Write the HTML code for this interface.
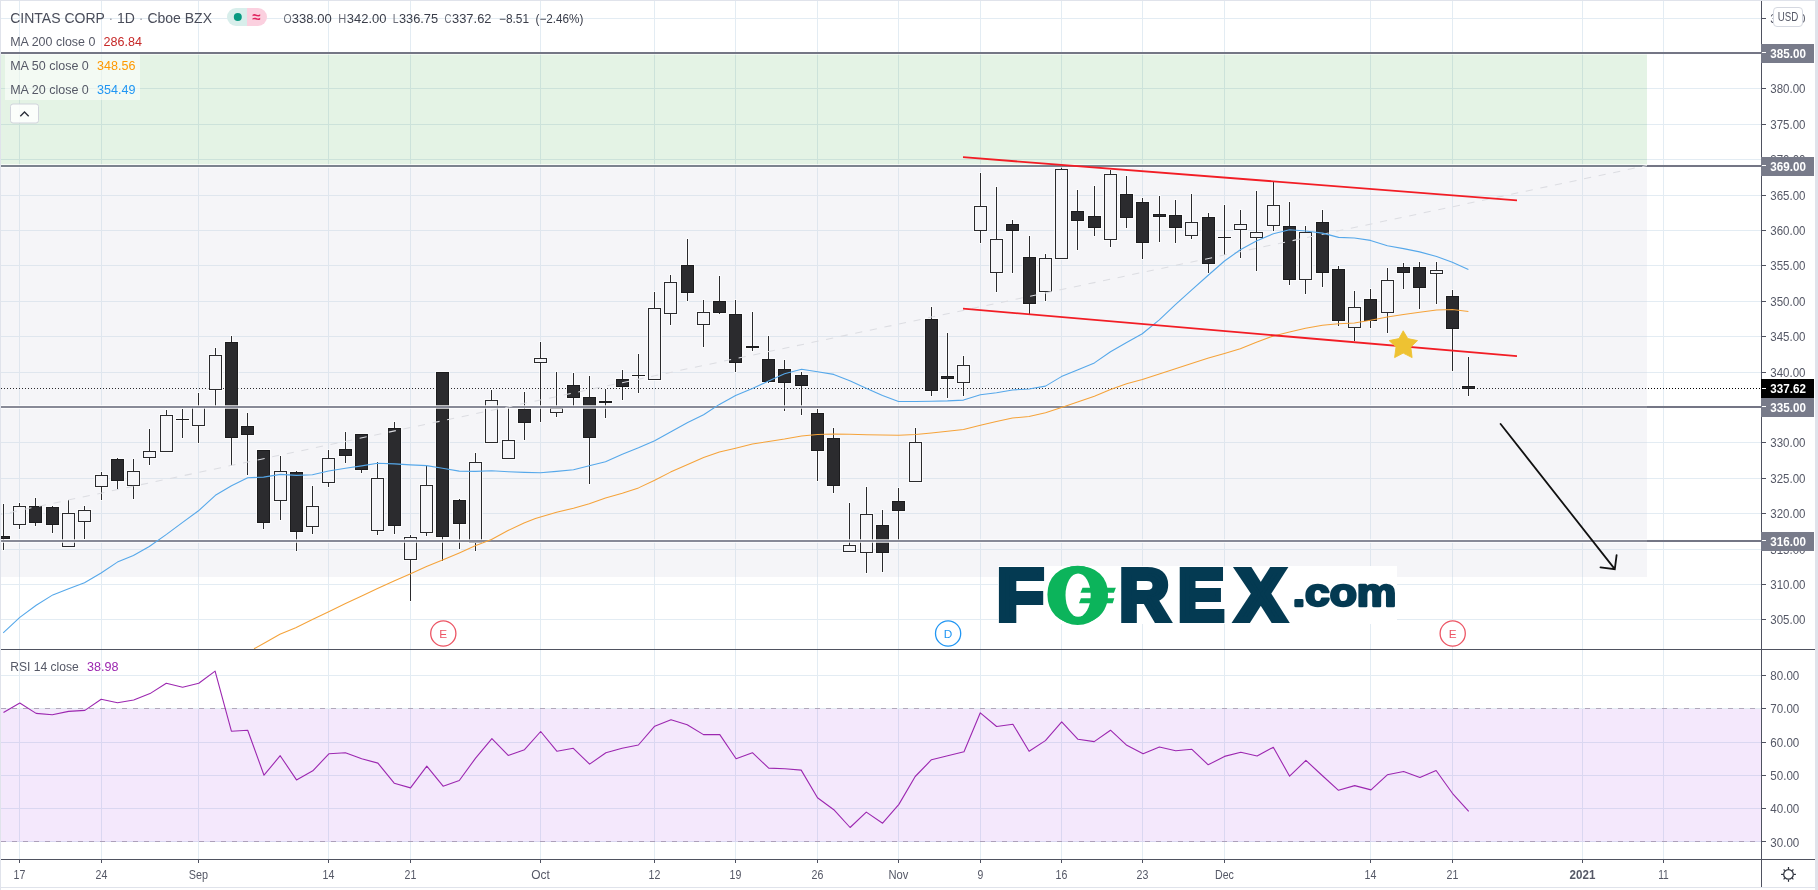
<!DOCTYPE html>
<html lang="en"><head><meta charset="utf-8"><title>CINTAS CORP chart</title>
<style>
html,body{margin:0;padding:0;background:#fff;}
body{width:1818px;height:890px;overflow:hidden;}
svg{display:block;font-family:"Liberation Sans", "DejaVu Sans", sans-serif;will-change:transform;}
.ce{shape-rendering:crispEdges;}
.ax{font-size:12.6px;fill:#555866;}
.lg{font-size:12px;fill:#555866;}
</style></head><body>
<svg width="1818" height="890" viewBox="0 0 1818 890">
<rect x="0" y="0" width="1818" height="890" fill="#fff"/>
<g class="ce">
<rect x="19" y="1" width="1" height="648" fill="#e3ecf3" />
<rect x="19" y="650" width="1" height="209" fill="#e3ecf3" />
<rect x="101" y="1" width="1" height="648" fill="#e3ecf3" />
<rect x="101" y="650" width="1" height="209" fill="#e3ecf3" />
<rect x="198" y="1" width="1" height="648" fill="#e3ecf3" />
<rect x="198" y="650" width="1" height="209" fill="#e3ecf3" />
<rect x="328" y="1" width="1" height="648" fill="#e3ecf3" />
<rect x="328" y="650" width="1" height="209" fill="#e3ecf3" />
<rect x="410" y="1" width="1" height="648" fill="#e3ecf3" />
<rect x="410" y="650" width="1" height="209" fill="#e3ecf3" />
<rect x="540" y="1" width="1" height="648" fill="#e3ecf3" />
<rect x="540" y="650" width="1" height="209" fill="#e3ecf3" />
<rect x="654" y="1" width="1" height="648" fill="#e3ecf3" />
<rect x="654" y="650" width="1" height="209" fill="#e3ecf3" />
<rect x="735" y="1" width="1" height="648" fill="#e3ecf3" />
<rect x="735" y="650" width="1" height="209" fill="#e3ecf3" />
<rect x="817" y="1" width="1" height="648" fill="#e3ecf3" />
<rect x="817" y="650" width="1" height="209" fill="#e3ecf3" />
<rect x="898" y="1" width="1" height="648" fill="#e3ecf3" />
<rect x="898" y="650" width="1" height="209" fill="#e3ecf3" />
<rect x="980" y="1" width="1" height="648" fill="#e3ecf3" />
<rect x="980" y="650" width="1" height="209" fill="#e3ecf3" />
<rect x="1061" y="1" width="1" height="648" fill="#e3ecf3" />
<rect x="1061" y="650" width="1" height="209" fill="#e3ecf3" />
<rect x="1142" y="1" width="1" height="648" fill="#e3ecf3" />
<rect x="1142" y="650" width="1" height="209" fill="#e3ecf3" />
<rect x="1224" y="1" width="1" height="648" fill="#e3ecf3" />
<rect x="1224" y="650" width="1" height="209" fill="#e3ecf3" />
<rect x="1370" y="1" width="1" height="648" fill="#e3ecf3" />
<rect x="1370" y="650" width="1" height="209" fill="#e3ecf3" />
<rect x="1452" y="1" width="1" height="648" fill="#e3ecf3" />
<rect x="1452" y="650" width="1" height="209" fill="#e3ecf3" />
<rect x="1582" y="1" width="1" height="648" fill="#e3ecf3" />
<rect x="1582" y="650" width="1" height="209" fill="#e3ecf3" />
<rect x="1663" y="1" width="1" height="648" fill="#e3ecf3" />
<rect x="1663" y="650" width="1" height="209" fill="#e3ecf3" />
<rect x="1" y="619" width="1760" height="1" fill="#e3ecf3" />
<rect x="1" y="584" width="1760" height="1" fill="#e3ecf3" />
<rect x="1" y="549" width="1760" height="1" fill="#e3ecf3" />
<rect x="1" y="513" width="1760" height="1" fill="#e3ecf3" />
<rect x="1" y="478" width="1760" height="1" fill="#e3ecf3" />
<rect x="1" y="442" width="1760" height="1" fill="#e3ecf3" />
<rect x="1" y="407" width="1760" height="1" fill="#e3ecf3" />
<rect x="1" y="372" width="1760" height="1" fill="#e3ecf3" />
<rect x="1" y="336" width="1760" height="1" fill="#e3ecf3" />
<rect x="1" y="301" width="1760" height="1" fill="#e3ecf3" />
<rect x="1" y="265" width="1760" height="1" fill="#e3ecf3" />
<rect x="1" y="230" width="1760" height="1" fill="#e3ecf3" />
<rect x="1" y="195" width="1760" height="1" fill="#e3ecf3" />
<rect x="1" y="159" width="1760" height="1" fill="#e3ecf3" />
<rect x="1" y="124" width="1760" height="1" fill="#e3ecf3" />
<rect x="1" y="88" width="1760" height="1" fill="#e3ecf3" />
<rect x="1" y="53" width="1760" height="1" fill="#e3ecf3" />
<rect x="1" y="18" width="1760" height="1" fill="#e3ecf3" />
<rect x="1" y="675" width="1760" height="1" fill="#e3ecf3" />
<rect x="1" y="708" width="1760" height="1" fill="#e3ecf3" />
<rect x="1" y="742" width="1760" height="1" fill="#e3ecf3" />
<rect x="1" y="775" width="1760" height="1" fill="#e3ecf3" />
<rect x="1" y="808" width="1760" height="1" fill="#e3ecf3" />
<rect x="1" y="841" width="1760" height="1" fill="#e3ecf3" />
<rect x="1" y="54" width="1646" height="112" fill="rgb(76,175,80)" fill-opacity="0.15"/>
<rect x="1" y="167" width="1646" height="410" fill="rgb(206,206,221)" fill-opacity="0.207"/>
</g>
<rect class="ce" x="1" y="709" width="1760" height="133" fill="rgb(150,30,230)" opacity="0.1"/>
<path d="M1 708.5H1761M1 841.5H1761" stroke="#8e7b96" stroke-width="1" stroke-dasharray="5 6" fill="none" opacity="0.6" class="ce"/>
<path d="M1 388.5H1648" stroke="#2a2a2d" stroke-width="1" stroke-dasharray="1 2" class="ce" fill="none"/>
<path d="M1648 388.5H1761" stroke="#000" stroke-width="1" stroke-dasharray="1 2" class="ce" fill="none"/>
<g class="ce" fill="#fff" opacity="0.65">
<rect x="2" y="503" width="3" height="48"/>
<rect x="-4" y="535" width="15" height="5"/>
<rect x="18" y="502" width="3" height="28"/>
<rect x="12" y="505" width="15" height="21"/>
<rect x="34" y="497" width="3" height="30"/>
<rect x="28" y="505" width="15" height="19"/>
<rect x="51" y="505" width="3" height="29"/>
<rect x="45" y="506" width="15" height="20"/>
<rect x="67" y="499" width="3" height="49"/>
<rect x="61" y="512" width="15" height="36"/>
<rect x="83" y="505" width="3" height="35"/>
<rect x="77" y="509" width="15" height="14"/>
<rect x="100" y="471" width="3" height="30"/>
<rect x="94" y="474" width="15" height="14"/>
<rect x="116" y="457" width="3" height="33"/>
<rect x="110" y="458" width="15" height="24"/>
<rect x="132" y="458" width="3" height="42"/>
<rect x="126" y="470" width="15" height="17"/>
<rect x="148" y="428" width="3" height="38"/>
<rect x="142" y="450" width="15" height="9"/>
<rect x="165" y="409" width="3" height="44"/>
<rect x="159" y="414" width="15" height="39"/>
<rect x="181" y="408" width="3" height="31"/>
<rect x="175" y="418" width="15" height="3"/>
<rect x="197" y="392" width="3" height="52"/>
<rect x="191" y="405" width="15" height="22"/>
<rect x="214" y="347" width="3" height="60"/>
<rect x="208" y="354" width="15" height="37"/>
<rect x="230" y="335" width="3" height="132"/>
<rect x="224" y="341" width="15" height="98"/>
<rect x="246" y="412" width="3" height="64"/>
<rect x="240" y="425" width="15" height="11"/>
<rect x="262" y="449" width="3" height="81"/>
<rect x="256" y="449" width="15" height="75"/>
<rect x="279" y="455" width="3" height="66"/>
<rect x="273" y="470" width="15" height="32"/>
<rect x="295" y="470" width="3" height="82"/>
<rect x="289" y="471" width="15" height="62"/>
<rect x="311" y="485" width="3" height="50"/>
<rect x="305" y="505" width="15" height="23"/>
<rect x="327" y="449" width="3" height="39"/>
<rect x="321" y="457" width="15" height="27"/>
<rect x="344" y="431" width="3" height="33"/>
<rect x="338" y="448" width="15" height="9"/>
<rect x="360" y="433" width="3" height="41"/>
<rect x="354" y="433" width="15" height="38"/>
<rect x="376" y="461" width="3" height="75"/>
<rect x="370" y="477" width="15" height="55"/>
<rect x="393" y="421" width="3" height="114"/>
<rect x="387" y="427" width="15" height="100"/>
<rect x="409" y="534" width="3" height="68"/>
<rect x="403" y="536" width="15" height="25"/>
<rect x="425" y="465" width="3" height="72"/>
<rect x="419" y="484" width="15" height="50"/>
<rect x="441" y="371" width="3" height="191"/>
<rect x="435" y="371" width="15" height="167"/>
<rect x="458" y="498" width="3" height="52"/>
<rect x="452" y="499" width="15" height="26"/>
<rect x="474" y="452" width="3" height="100"/>
<rect x="468" y="461" width="15" height="83"/>
<rect x="490" y="389" width="3" height="55"/>
<rect x="484" y="399" width="15" height="45"/>
<rect x="507" y="406" width="3" height="54"/>
<rect x="501" y="439" width="15" height="21"/>
<rect x="523" y="391" width="3" height="50"/>
<rect x="517" y="408" width="15" height="16"/>
<rect x="539" y="341" width="3" height="82"/>
<rect x="533" y="357" width="15" height="7"/>
<rect x="555" y="371" width="3" height="47"/>
<rect x="549" y="407" width="15" height="7"/>
<rect x="572" y="372" width="3" height="35"/>
<rect x="566" y="384" width="15" height="15"/>
<rect x="588" y="375" width="3" height="110"/>
<rect x="582" y="396" width="15" height="43"/>
<rect x="604" y="388" width="3" height="31"/>
<rect x="598" y="400" width="15" height="4"/>
<rect x="621" y="369" width="3" height="32"/>
<rect x="615" y="378" width="15" height="10"/>
<rect x="637" y="353" width="3" height="41"/>
<rect x="631" y="374" width="15" height="3"/>
<rect x="653" y="291" width="3" height="90"/>
<rect x="647" y="307" width="15" height="74"/>
<rect x="669" y="274" width="3" height="52"/>
<rect x="663" y="281" width="15" height="34"/>
<rect x="686" y="238" width="3" height="64"/>
<rect x="680" y="264" width="15" height="30"/>
<rect x="702" y="299" width="3" height="49"/>
<rect x="696" y="311" width="15" height="15"/>
<rect x="718" y="275" width="3" height="40"/>
<rect x="712" y="300" width="15" height="14"/>
<rect x="734" y="299" width="3" height="74"/>
<rect x="728" y="313" width="15" height="51"/>
<rect x="751" y="311" width="3" height="41"/>
<rect x="745" y="345" width="15" height="4"/>
<rect x="767" y="335" width="3" height="49"/>
<rect x="761" y="358" width="15" height="25"/>
<rect x="783" y="359" width="3" height="53"/>
<rect x="777" y="368" width="15" height="16"/>
<rect x="800" y="371" width="3" height="45"/>
<rect x="794" y="374" width="15" height="13"/>
<rect x="816" y="408" width="3" height="74"/>
<rect x="810" y="412" width="15" height="40"/>
<rect x="832" y="427" width="3" height="67"/>
<rect x="826" y="437" width="15" height="50"/>
<rect x="848" y="502" width="3" height="51"/>
<rect x="842" y="544" width="15" height="9"/>
<rect x="865" y="486" width="3" height="88"/>
<rect x="859" y="513" width="15" height="41"/>
<rect x="881" y="509" width="3" height="64"/>
<rect x="875" y="524" width="15" height="30"/>
<rect x="897" y="487" width="3" height="54"/>
<rect x="891" y="500" width="15" height="12"/>
<rect x="914" y="427" width="3" height="56"/>
<rect x="908" y="441" width="15" height="42"/>
<rect x="930" y="306" width="3" height="91"/>
<rect x="924" y="318" width="15" height="74"/>
<rect x="946" y="332" width="3" height="67"/>
<rect x="940" y="375" width="15" height="5"/>
<rect x="962" y="355" width="3" height="42"/>
<rect x="956" y="364" width="15" height="20"/>
<rect x="979" y="172" width="3" height="72"/>
<rect x="973" y="205" width="15" height="27"/>
<rect x="995" y="186" width="3" height="107"/>
<rect x="989" y="238" width="15" height="36"/>
<rect x="1011" y="219" width="3" height="55"/>
<rect x="1005" y="223" width="15" height="9"/>
<rect x="1028" y="235" width="3" height="80"/>
<rect x="1022" y="256" width="15" height="49"/>
<rect x="1044" y="253" width="3" height="49"/>
<rect x="1038" y="257" width="15" height="36"/>
<rect x="1060" y="166" width="3" height="94"/>
<rect x="1054" y="168" width="15" height="92"/>
<rect x="1076" y="189" width="3" height="62"/>
<rect x="1070" y="210" width="15" height="12"/>
<rect x="1093" y="185" width="3" height="52"/>
<rect x="1087" y="215" width="15" height="14"/>
<rect x="1109" y="169" width="3" height="79"/>
<rect x="1103" y="173" width="15" height="68"/>
<rect x="1125" y="175" width="3" height="54"/>
<rect x="1119" y="193" width="15" height="26"/>
<rect x="1141" y="197" width="3" height="63"/>
<rect x="1135" y="201" width="15" height="43"/>
<rect x="1158" y="195" width="3" height="48"/>
<rect x="1152" y="213" width="15" height="5"/>
<rect x="1174" y="199" width="3" height="45"/>
<rect x="1168" y="214" width="15" height="15"/>
<rect x="1190" y="193" width="3" height="47"/>
<rect x="1184" y="221" width="15" height="16"/>
<rect x="1207" y="212" width="3" height="62"/>
<rect x="1201" y="216" width="15" height="49"/>
<rect x="1223" y="204" width="3" height="52"/>
<rect x="1217" y="236" width="15" height="3"/>
<rect x="1239" y="209" width="3" height="50"/>
<rect x="1233" y="223" width="15" height="8"/>
<rect x="1255" y="190" width="3" height="82"/>
<rect x="1249" y="231" width="15" height="8"/>
<rect x="1272" y="181" width="3" height="51"/>
<rect x="1266" y="204" width="15" height="23"/>
<rect x="1288" y="201" width="3" height="85"/>
<rect x="1282" y="225" width="15" height="56"/>
<rect x="1304" y="225" width="3" height="70"/>
<rect x="1298" y="231" width="15" height="50"/>
<rect x="1321" y="209" width="3" height="79"/>
<rect x="1315" y="221" width="15" height="53"/>
<rect x="1337" y="265" width="3" height="62"/>
<rect x="1331" y="268" width="15" height="54"/>
<rect x="1353" y="290" width="3" height="52"/>
<rect x="1347" y="306" width="15" height="23"/>
<rect x="1369" y="288" width="3" height="41"/>
<rect x="1363" y="298" width="15" height="24"/>
<rect x="1386" y="267" width="3" height="67"/>
<rect x="1380" y="279" width="15" height="35"/>
<rect x="1402" y="262" width="3" height="28"/>
<rect x="1396" y="266" width="15" height="8"/>
<rect x="1418" y="261" width="3" height="49"/>
<rect x="1412" y="266" width="15" height="23"/>
<rect x="1435" y="261" width="3" height="44"/>
<rect x="1429" y="269" width="15" height="6"/>
<rect x="1451" y="289" width="3" height="83"/>
<rect x="1445" y="295" width="15" height="35"/>
<rect x="1467" y="356" width="3" height="41"/>
<rect x="1461" y="385" width="15" height="5"/>
</g>
<g class="ce" fill="#1c1c1e">
<rect x="3" y="504" width="1" height="46" fill="#2a2a2d"/>
<rect x="-3" y="536" width="13" height="3"/>
<rect x="-2" y="537" width="11" height="1" fill="#2b2b2e"/>
<rect x="19" y="503" width="1" height="26" fill="#2a2a2d"/>
<rect x="13" y="506" width="13" height="19" fill="#2a2a2d"/>
<rect x="14" y="507" width="11" height="17" fill="#f5f5f8"/>
<rect x="35" y="498" width="1" height="28" fill="#2a2a2d"/>
<rect x="29" y="506" width="13" height="17"/>
<rect x="30" y="507" width="11" height="15" fill="#2b2b2e"/>
<rect x="52" y="506" width="1" height="27" fill="#2a2a2d"/>
<rect x="46" y="507" width="13" height="18"/>
<rect x="47" y="508" width="11" height="16" fill="#2b2b2e"/>
<rect x="68" y="500" width="1" height="47" fill="#2a2a2d"/>
<rect x="62" y="513" width="13" height="34" fill="#2a2a2d"/>
<rect x="63" y="514" width="11" height="32" fill="#f5f5f8"/>
<rect x="84" y="506" width="1" height="33" fill="#2a2a2d"/>
<rect x="78" y="510" width="13" height="12" fill="#2a2a2d"/>
<rect x="79" y="511" width="11" height="10" fill="#f5f5f8"/>
<rect x="101" y="472" width="1" height="28" fill="#2a2a2d"/>
<rect x="95" y="475" width="13" height="12" fill="#2a2a2d"/>
<rect x="96" y="476" width="11" height="10" fill="#f5f5f8"/>
<rect x="117" y="458" width="1" height="31" fill="#2a2a2d"/>
<rect x="111" y="459" width="13" height="22"/>
<rect x="112" y="460" width="11" height="20" fill="#2b2b2e"/>
<rect x="133" y="459" width="1" height="40" fill="#2a2a2d"/>
<rect x="127" y="471" width="13" height="15" fill="#2a2a2d"/>
<rect x="128" y="472" width="11" height="13" fill="#f5f5f8"/>
<rect x="149" y="429" width="1" height="36" fill="#2a2a2d"/>
<rect x="143" y="451" width="13" height="7" fill="#2a2a2d"/>
<rect x="144" y="452" width="11" height="5" fill="#f5f5f8"/>
<rect x="166" y="410" width="1" height="42" fill="#2a2a2d"/>
<rect x="160" y="415" width="13" height="37" fill="#2a2a2d"/>
<rect x="161" y="416" width="11" height="35" fill="#f5f5f8"/>
<rect x="182" y="409" width="1" height="29" fill="#2a2a2d"/>
<rect x="176" y="419" width="13" height="1"/>
<rect x="198" y="393" width="1" height="50" fill="#2a2a2d"/>
<rect x="192" y="406" width="13" height="20" fill="#2a2a2d"/>
<rect x="193" y="407" width="11" height="18" fill="#f5f5f8"/>
<rect x="215" y="348" width="1" height="58" fill="#2a2a2d"/>
<rect x="209" y="355" width="13" height="35" fill="#2a2a2d"/>
<rect x="210" y="356" width="11" height="33" fill="#f5f5f8"/>
<rect x="231" y="336" width="1" height="130" fill="#2a2a2d"/>
<rect x="225" y="342" width="13" height="96"/>
<rect x="226" y="343" width="11" height="94" fill="#2b2b2e"/>
<rect x="247" y="413" width="1" height="62" fill="#2a2a2d"/>
<rect x="241" y="426" width="13" height="9"/>
<rect x="242" y="427" width="11" height="7" fill="#2b2b2e"/>
<rect x="263" y="450" width="1" height="79" fill="#2a2a2d"/>
<rect x="257" y="450" width="13" height="73"/>
<rect x="258" y="451" width="11" height="71" fill="#2b2b2e"/>
<rect x="280" y="456" width="1" height="64" fill="#2a2a2d"/>
<rect x="274" y="471" width="13" height="30" fill="#2a2a2d"/>
<rect x="275" y="472" width="11" height="28" fill="#f5f5f8"/>
<rect x="296" y="471" width="1" height="80" fill="#2a2a2d"/>
<rect x="290" y="472" width="13" height="60"/>
<rect x="291" y="473" width="11" height="58" fill="#2b2b2e"/>
<rect x="312" y="486" width="1" height="48" fill="#2a2a2d"/>
<rect x="306" y="506" width="13" height="21" fill="#2a2a2d"/>
<rect x="307" y="507" width="11" height="19" fill="#f5f5f8"/>
<rect x="328" y="450" width="1" height="37" fill="#2a2a2d"/>
<rect x="322" y="458" width="13" height="25" fill="#2a2a2d"/>
<rect x="323" y="459" width="11" height="23" fill="#f5f5f8"/>
<rect x="345" y="432" width="1" height="31" fill="#2a2a2d"/>
<rect x="339" y="449" width="13" height="7"/>
<rect x="340" y="450" width="11" height="5" fill="#2b2b2e"/>
<rect x="361" y="434" width="1" height="39" fill="#2a2a2d"/>
<rect x="355" y="434" width="13" height="36"/>
<rect x="356" y="435" width="11" height="34" fill="#2b2b2e"/>
<rect x="377" y="462" width="1" height="73" fill="#2a2a2d"/>
<rect x="371" y="478" width="13" height="53" fill="#2a2a2d"/>
<rect x="372" y="479" width="11" height="51" fill="#f5f5f8"/>
<rect x="394" y="422" width="1" height="112" fill="#2a2a2d"/>
<rect x="388" y="428" width="13" height="98"/>
<rect x="389" y="429" width="11" height="96" fill="#2b2b2e"/>
<rect x="410" y="535" width="1" height="66" fill="#2a2a2d"/>
<rect x="404" y="537" width="13" height="23" fill="#2a2a2d"/>
<rect x="405" y="538" width="11" height="21" fill="#f5f5f8"/>
<rect x="426" y="466" width="1" height="70" fill="#2a2a2d"/>
<rect x="420" y="485" width="13" height="48" fill="#2a2a2d"/>
<rect x="421" y="486" width="11" height="46" fill="#f5f5f8"/>
<rect x="442" y="372" width="1" height="189" fill="#2a2a2d"/>
<rect x="436" y="372" width="13" height="165"/>
<rect x="437" y="373" width="11" height="163" fill="#2b2b2e"/>
<rect x="459" y="499" width="1" height="50" fill="#2a2a2d"/>
<rect x="453" y="500" width="13" height="24"/>
<rect x="454" y="501" width="11" height="22" fill="#2b2b2e"/>
<rect x="475" y="453" width="1" height="98" fill="#2a2a2d"/>
<rect x="469" y="462" width="13" height="81" fill="#2a2a2d"/>
<rect x="470" y="463" width="11" height="79" fill="#f5f5f8"/>
<rect x="491" y="390" width="1" height="53" fill="#2a2a2d"/>
<rect x="485" y="400" width="13" height="43" fill="#2a2a2d"/>
<rect x="486" y="401" width="11" height="41" fill="#f5f5f8"/>
<rect x="508" y="407" width="1" height="52" fill="#2a2a2d"/>
<rect x="502" y="440" width="13" height="19" fill="#2a2a2d"/>
<rect x="503" y="441" width="11" height="17" fill="#f5f5f8"/>
<rect x="524" y="392" width="1" height="48" fill="#2a2a2d"/>
<rect x="518" y="409" width="13" height="14"/>
<rect x="519" y="410" width="11" height="12" fill="#2b2b2e"/>
<rect x="540" y="342" width="1" height="80" fill="#2a2a2d"/>
<rect x="534" y="358" width="13" height="5" fill="#2a2a2d"/>
<rect x="535" y="359" width="11" height="3" fill="#f5f5f8"/>
<rect x="556" y="372" width="1" height="45" fill="#2a2a2d"/>
<rect x="550" y="408" width="13" height="5" fill="#2a2a2d"/>
<rect x="551" y="409" width="11" height="3" fill="#f5f5f8"/>
<rect x="573" y="373" width="1" height="33" fill="#2a2a2d"/>
<rect x="567" y="385" width="13" height="13"/>
<rect x="568" y="386" width="11" height="11" fill="#2b2b2e"/>
<rect x="589" y="376" width="1" height="108" fill="#2a2a2d"/>
<rect x="583" y="397" width="13" height="41"/>
<rect x="584" y="398" width="11" height="39" fill="#2b2b2e"/>
<rect x="605" y="389" width="1" height="29" fill="#2a2a2d"/>
<rect x="599" y="401" width="13" height="2"/>
<rect x="622" y="370" width="1" height="30" fill="#2a2a2d"/>
<rect x="616" y="379" width="13" height="8"/>
<rect x="617" y="380" width="11" height="6" fill="#2b2b2e"/>
<rect x="638" y="354" width="1" height="39" fill="#2a2a2d"/>
<rect x="632" y="375" width="13" height="1"/>
<rect x="654" y="292" width="1" height="88" fill="#2a2a2d"/>
<rect x="648" y="308" width="13" height="72" fill="#2a2a2d"/>
<rect x="649" y="309" width="11" height="70" fill="#f5f5f8"/>
<rect x="670" y="275" width="1" height="50" fill="#2a2a2d"/>
<rect x="664" y="282" width="13" height="32" fill="#2a2a2d"/>
<rect x="665" y="283" width="11" height="30" fill="#f5f5f8"/>
<rect x="687" y="239" width="1" height="62" fill="#2a2a2d"/>
<rect x="681" y="265" width="13" height="28"/>
<rect x="682" y="266" width="11" height="26" fill="#2b2b2e"/>
<rect x="703" y="300" width="1" height="47" fill="#2a2a2d"/>
<rect x="697" y="312" width="13" height="13" fill="#2a2a2d"/>
<rect x="698" y="313" width="11" height="11" fill="#f5f5f8"/>
<rect x="719" y="276" width="1" height="38" fill="#2a2a2d"/>
<rect x="713" y="301" width="13" height="12"/>
<rect x="714" y="302" width="11" height="10" fill="#2b2b2e"/>
<rect x="735" y="300" width="1" height="72" fill="#2a2a2d"/>
<rect x="729" y="314" width="13" height="49"/>
<rect x="730" y="315" width="11" height="47" fill="#2b2b2e"/>
<rect x="752" y="312" width="1" height="39" fill="#2a2a2d"/>
<rect x="746" y="346" width="13" height="2"/>
<rect x="768" y="336" width="1" height="47" fill="#2a2a2d"/>
<rect x="762" y="359" width="13" height="23"/>
<rect x="763" y="360" width="11" height="21" fill="#2b2b2e"/>
<rect x="784" y="360" width="1" height="51" fill="#2a2a2d"/>
<rect x="778" y="369" width="13" height="14"/>
<rect x="779" y="370" width="11" height="12" fill="#2b2b2e"/>
<rect x="801" y="372" width="1" height="43" fill="#2a2a2d"/>
<rect x="795" y="375" width="13" height="11"/>
<rect x="796" y="376" width="11" height="9" fill="#2b2b2e"/>
<rect x="817" y="409" width="1" height="72" fill="#2a2a2d"/>
<rect x="811" y="413" width="13" height="38"/>
<rect x="812" y="414" width="11" height="36" fill="#2b2b2e"/>
<rect x="833" y="428" width="1" height="65" fill="#2a2a2d"/>
<rect x="827" y="438" width="13" height="48"/>
<rect x="828" y="439" width="11" height="46" fill="#2b2b2e"/>
<rect x="849" y="503" width="1" height="49" fill="#2a2a2d"/>
<rect x="843" y="545" width="13" height="7" fill="#2a2a2d"/>
<rect x="844" y="546" width="11" height="5" fill="#f5f5f8"/>
<rect x="866" y="487" width="1" height="86" fill="#2a2a2d"/>
<rect x="860" y="514" width="13" height="39" fill="#2a2a2d"/>
<rect x="861" y="515" width="11" height="37" fill="#f5f5f8"/>
<rect x="882" y="510" width="1" height="62" fill="#2a2a2d"/>
<rect x="876" y="525" width="13" height="28"/>
<rect x="877" y="526" width="11" height="26" fill="#2b2b2e"/>
<rect x="898" y="488" width="1" height="52" fill="#2a2a2d"/>
<rect x="892" y="501" width="13" height="10"/>
<rect x="893" y="502" width="11" height="8" fill="#2b2b2e"/>
<rect x="915" y="428" width="1" height="54" fill="#2a2a2d"/>
<rect x="909" y="442" width="13" height="40" fill="#2a2a2d"/>
<rect x="910" y="443" width="11" height="38" fill="#f5f5f8"/>
<rect x="931" y="307" width="1" height="89" fill="#2a2a2d"/>
<rect x="925" y="319" width="13" height="72"/>
<rect x="926" y="320" width="11" height="70" fill="#2b2b2e"/>
<rect x="947" y="333" width="1" height="65" fill="#2a2a2d"/>
<rect x="941" y="376" width="13" height="3"/>
<rect x="942" y="377" width="11" height="1" fill="#2b2b2e"/>
<rect x="963" y="356" width="1" height="40" fill="#2a2a2d"/>
<rect x="957" y="365" width="13" height="18" fill="#2a2a2d"/>
<rect x="958" y="366" width="11" height="16" fill="#f5f5f8"/>
<rect x="980" y="173" width="1" height="70" fill="#2a2a2d"/>
<rect x="974" y="206" width="13" height="25" fill="#2a2a2d"/>
<rect x="975" y="207" width="11" height="23" fill="#f5f5f8"/>
<rect x="996" y="187" width="1" height="105" fill="#2a2a2d"/>
<rect x="990" y="239" width="13" height="34" fill="#2a2a2d"/>
<rect x="991" y="240" width="11" height="32" fill="#f5f5f8"/>
<rect x="1012" y="220" width="1" height="53" fill="#2a2a2d"/>
<rect x="1006" y="224" width="13" height="7"/>
<rect x="1007" y="225" width="11" height="5" fill="#2b2b2e"/>
<rect x="1029" y="236" width="1" height="78" fill="#2a2a2d"/>
<rect x="1023" y="257" width="13" height="47"/>
<rect x="1024" y="258" width="11" height="45" fill="#2b2b2e"/>
<rect x="1045" y="254" width="1" height="47" fill="#2a2a2d"/>
<rect x="1039" y="258" width="13" height="34" fill="#2a2a2d"/>
<rect x="1040" y="259" width="11" height="32" fill="#f5f5f8"/>
<rect x="1061" y="167" width="1" height="92" fill="#2a2a2d"/>
<rect x="1055" y="169" width="13" height="90" fill="#2a2a2d"/>
<rect x="1056" y="170" width="11" height="88" fill="#f5f5f8"/>
<rect x="1077" y="190" width="1" height="60" fill="#2a2a2d"/>
<rect x="1071" y="211" width="13" height="10"/>
<rect x="1072" y="212" width="11" height="8" fill="#2b2b2e"/>
<rect x="1094" y="186" width="1" height="50" fill="#2a2a2d"/>
<rect x="1088" y="216" width="13" height="12"/>
<rect x="1089" y="217" width="11" height="10" fill="#2b2b2e"/>
<rect x="1110" y="170" width="1" height="77" fill="#2a2a2d"/>
<rect x="1104" y="174" width="13" height="66" fill="#2a2a2d"/>
<rect x="1105" y="175" width="11" height="64" fill="#f5f5f8"/>
<rect x="1126" y="176" width="1" height="52" fill="#2a2a2d"/>
<rect x="1120" y="194" width="13" height="24"/>
<rect x="1121" y="195" width="11" height="22" fill="#2b2b2e"/>
<rect x="1142" y="198" width="1" height="61" fill="#2a2a2d"/>
<rect x="1136" y="202" width="13" height="41"/>
<rect x="1137" y="203" width="11" height="39" fill="#2b2b2e"/>
<rect x="1159" y="196" width="1" height="46" fill="#2a2a2d"/>
<rect x="1153" y="214" width="13" height="3"/>
<rect x="1154" y="215" width="11" height="1" fill="#2b2b2e"/>
<rect x="1175" y="200" width="1" height="43" fill="#2a2a2d"/>
<rect x="1169" y="215" width="13" height="13"/>
<rect x="1170" y="216" width="11" height="11" fill="#2b2b2e"/>
<rect x="1191" y="194" width="1" height="45" fill="#2a2a2d"/>
<rect x="1185" y="222" width="13" height="14" fill="#2a2a2d"/>
<rect x="1186" y="223" width="11" height="12" fill="#f5f5f8"/>
<rect x="1208" y="213" width="1" height="60" fill="#2a2a2d"/>
<rect x="1202" y="217" width="13" height="47"/>
<rect x="1203" y="218" width="11" height="45" fill="#2b2b2e"/>
<rect x="1224" y="205" width="1" height="50" fill="#2a2a2d"/>
<rect x="1218" y="237" width="13" height="1"/>
<rect x="1240" y="210" width="1" height="48" fill="#2a2a2d"/>
<rect x="1234" y="224" width="13" height="6" fill="#2a2a2d"/>
<rect x="1235" y="225" width="11" height="4" fill="#f5f5f8"/>
<rect x="1256" y="191" width="1" height="80" fill="#2a2a2d"/>
<rect x="1250" y="232" width="13" height="6" fill="#2a2a2d"/>
<rect x="1251" y="233" width="11" height="4" fill="#f5f5f8"/>
<rect x="1273" y="182" width="1" height="49" fill="#2a2a2d"/>
<rect x="1267" y="205" width="13" height="21" fill="#2a2a2d"/>
<rect x="1268" y="206" width="11" height="19" fill="#f5f5f8"/>
<rect x="1289" y="202" width="1" height="83" fill="#2a2a2d"/>
<rect x="1283" y="226" width="13" height="54"/>
<rect x="1284" y="227" width="11" height="52" fill="#2b2b2e"/>
<rect x="1305" y="226" width="1" height="68" fill="#2a2a2d"/>
<rect x="1299" y="232" width="13" height="48" fill="#2a2a2d"/>
<rect x="1300" y="233" width="11" height="46" fill="#f5f5f8"/>
<rect x="1322" y="210" width="1" height="77" fill="#2a2a2d"/>
<rect x="1316" y="222" width="13" height="51"/>
<rect x="1317" y="223" width="11" height="49" fill="#2b2b2e"/>
<rect x="1338" y="266" width="1" height="60" fill="#2a2a2d"/>
<rect x="1332" y="269" width="13" height="52"/>
<rect x="1333" y="270" width="11" height="50" fill="#2b2b2e"/>
<rect x="1354" y="291" width="1" height="50" fill="#2a2a2d"/>
<rect x="1348" y="307" width="13" height="21" fill="#2a2a2d"/>
<rect x="1349" y="308" width="11" height="19" fill="#f5f5f8"/>
<rect x="1370" y="289" width="1" height="39" fill="#2a2a2d"/>
<rect x="1364" y="299" width="13" height="22"/>
<rect x="1365" y="300" width="11" height="20" fill="#2b2b2e"/>
<rect x="1387" y="268" width="1" height="65" fill="#2a2a2d"/>
<rect x="1381" y="280" width="13" height="33" fill="#2a2a2d"/>
<rect x="1382" y="281" width="11" height="31" fill="#f5f5f8"/>
<rect x="1403" y="263" width="1" height="26" fill="#2a2a2d"/>
<rect x="1397" y="267" width="13" height="6"/>
<rect x="1398" y="268" width="11" height="4" fill="#2b2b2e"/>
<rect x="1419" y="262" width="1" height="47" fill="#2a2a2d"/>
<rect x="1413" y="267" width="13" height="21"/>
<rect x="1414" y="268" width="11" height="19" fill="#2b2b2e"/>
<rect x="1436" y="262" width="1" height="42" fill="#2a2a2d"/>
<rect x="1430" y="270" width="13" height="4" fill="#2a2a2d"/>
<rect x="1431" y="271" width="11" height="2" fill="#f5f5f8"/>
<rect x="1452" y="290" width="1" height="81" fill="#2a2a2d"/>
<rect x="1446" y="296" width="13" height="33"/>
<rect x="1447" y="297" width="11" height="31" fill="#2b2b2e"/>
<rect x="1468" y="357" width="1" height="39" fill="#2a2a2d"/>
<rect x="1462" y="386" width="13" height="3"/>
<rect x="1463" y="387" width="11" height="1" fill="#2b2b2e"/>
</g>
<g class="ce">
<rect x="1" y="164" width="1646" height="1" fill="#fff" opacity="0.7"/>
<rect x="1" y="167" width="1646" height="1" fill="#fff" opacity="0.7"/>
<rect x="1" y="405" width="1646" height="1" fill="#fff" opacity="0.7"/>
<rect x="1" y="408" width="1646" height="1" fill="#fff" opacity="0.7"/>
<rect x="1" y="539" width="1646" height="1" fill="#fff" opacity="0.7"/>
<rect x="1" y="542" width="1646" height="1" fill="#fff" opacity="0.7"/>
<rect x="1" y="54" width="1646" height="1" fill="#fff" opacity="0.5"/>
<rect x="1" y="52" width="1760" height="2" fill="#747685"/>
<rect x="1" y="165" width="1646" height="2" fill="#7c838f"/>
<rect x="1647" y="165" width="114" height="2" fill="#747685"/>
<rect x="1" y="406" width="1646" height="2" fill="#888a97"/>
<rect x="1647" y="406" width="114" height="2" fill="#747685"/>
<rect x="1" y="540" width="1646" height="2" fill="#888a97"/>
<rect x="1647" y="540" width="114" height="2" fill="#747685"/>
</g>
<path d="M1 514.3L1647 165.5" stroke="#dcdde2" stroke-width="1.05" stroke-dasharray="7.2 7.7" stroke-dashoffset="-9" fill="none"/>
<path d="M254.0 648.8L263.6 643.5L279.9 634.3L295.7 627.7L312.4 619.5L328.7 611.8L345.5 603.5L361.7 596.0L377.5 588.6L394.0 581.0L410.6 573.8L426.5 566.4L442.5 560.0L459.3 552.9L475.2 545.8L491.5 539.5L508.0 530.5L524.0 523.0L535.4 518.6L556.6 512.2L573.5 508.2L589.3 503.8L605.5 498.1L622.3 493.3L638.5 487.9L654.7 480.2L670.5 472.1L687.7 464.4L703.6 457.6L719.4 451.9L735.6 448.2L752.4 444.1L768.6 441.4L784.5 439.1L801.6 436.0L817.5 434.4L833.7 433.9L849.8 434.3L866.7 434.7L882.5 435.0L898.5 435.3L915.6 434.4L931.4 432.9L947.5 431.2L963.5 429.4L980.4 425.2L996.4 421.5L1012.5 418.1L1029.0 416.4L1045.5 412.8L1061.5 407.5L1077.6 401.9L1094.4 396.3L1110.5 389.6L1126.6 383.8L1142.3 379.6L1159.3 374.1L1175.4 368.7L1191.5 363.5L1208.5 358.1L1224.5 353.5L1240.3 348.7L1256.4 342.3L1273.4 335.9L1289.5 332.0L1305.5 328.3L1322.5 325.3L1338.6 323.8L1354.4 322.9L1370.5 320.2L1387.4 317.1L1403.5 314.4L1419.6 312.3L1436.6 310.1L1452.3 309.5L1468.4 311.4" stroke="#f5a33a" stroke-width="1.05" fill="none" stroke-linejoin="round"/>
<path d="M3.2 632.9L19.8 617.4L36.2 605.2L52.8 594.9L68.6 588.8L84.5 582.8L101.1 573.0L117.4 562.1L133.4 555.5L149.3 546.5L166.5 534.4L182.3 522.6L198.5 510.8L215.4 495.3L231.5 485.8L247.7 477.7L263.6 477.1L280.4 474.4L296.6 475.4L312.4 474.7L328.6 471.0L345.5 468.3L361.6 465.9L377.5 463.2L394.7 463.9L410.5 464.9L426.7 465.6L442.5 468.3L459.2 471.1L475.4 471.4L491.6 470.8L508.4 471.8L524.3 472.4L540.4 472.8L556.6 471.4L573.5 469.7L589.3 465.7L605.5 461.7L622.3 454.2L638.5 447.8L654.7 440.8L670.5 432.0L687.7 422.6L703.6 414.8L719.4 404.4L735.6 395.6L752.4 388.5L768.6 381.1L784.5 373.7L801.6 369.3L817.5 371.7L833.7 374.4L849.8 380.8L866.7 388.5L882.5 395.6L898.5 401.5L915.6 401.5L931.4 401.2L947.5 400.9L963.5 400.1L980.4 394.8L996.5 392.7L1012.5 390.0L1029.0 389.0L1045.5 386.1L1061.4 376.6L1077.4 369.9L1094.4 362.9L1110.5 351.7L1126.6 342.6L1142.3 333.8L1159.3 319.9L1175.4 304.7L1191.5 290.1L1208.5 275.0L1224.5 261.0L1240.3 249.8L1256.4 241.0L1273.4 233.7L1289.5 229.8L1305.5 231.0L1322.5 233.1L1338.6 237.4L1354.4 238.0L1370.5 240.4L1387.4 245.8L1403.5 248.6L1419.6 251.9L1436.6 256.5L1452.3 262.2L1468.4 269.5" stroke="#56a8ea" stroke-width="1.1" fill="none" stroke-linejoin="round"/>
<path d="M963 157.2L1517 200.3M963 308.6L1517 356.2" stroke="#f21d25" stroke-width="1.8" fill="none" stroke-linecap="butt"/>
<polygon points="1403.2,330.8 1407.8,338.6 1417.5,340.6 1410.8,347 1412.1,357.6 1403.2,353.1 1394.6,357.6 1396,347 1389.1,340.6 1399,338.6" fill="#eec232" stroke="#eec232" stroke-width="0.9" stroke-linejoin="round"/>
<path d="M1500.6 424L1614.6 568.9M1600.5 567.4L1614.8 569.2L1616.6 555.1" stroke="#111" stroke-width="1.8" fill="none" stroke-linecap="round" stroke-linejoin="miter"/>
<path d="M3.5 712.4L19.8 703.0L36.1 713.4L52.3 714.8L68.6 711.4L84.9 710.4L101.2 699.3L117.5 702.7L133.7 700.0L150.0 693.6L166.3 683.2L182.6 687.2L198.8 683.2L215.1 671.1L231.4 731.2L247.7 730.2L264.0 775.2L280.2 755.7L296.5 779.9L312.8 770.8L329.1 753.7L345.4 752.7L361.7 758.7L377.9 763.1L394.2 783.2L410.5 787.9L426.8 766.1L443.1 786.2L459.3 780.5L475.6 758.1L491.9 738.6L508.2 755.4L524.5 749.7L540.7 731.5L557.0 751.3L573.3 748.3L589.6 764.1L605.9 752.8L622.1 748.3L638.4 745.0L654.7 726.2L671.0 719.8L687.2 724.8L703.5 734.6L719.8 734.6L736.1 758.7L752.4 752.7L768.7 768.1L784.9 768.8L801.2 770.1L817.5 797.7L833.8 809.7L850.1 827.5L866.3 812.1L882.6 823.2L898.9 804.4L915.2 776.5L931.5 759.7L947.7 755.7L964.0 751.7L980.3 712.8L996.6 726.5L1012.9 724.2L1029.1 751.3L1045.4 740.6L1061.7 721.8L1078.0 739.3L1094.2 741.6L1110.5 730.2L1126.8 745.3L1143.1 753.7L1159.4 747.0L1175.7 750.7L1191.9 749.3L1208.2 764.8L1224.5 756.4L1240.8 752.3L1257.1 756.0L1273.3 747.3L1289.6 776.2L1305.9 760.4L1322.2 775.5L1338.5 790.3L1354.7 785.6L1371.0 789.9L1387.3 774.8L1403.6 771.5L1419.9 777.5L1436.1 770.5L1452.4 793.3L1468.7 811.4" stroke="#9c27b0" stroke-width="1.1" fill="none" stroke-linejoin="round"/>
<circle cx="443.3" cy="633.5" r="12.6" fill="#fff" stroke="#ec5564" stroke-width="1.3"/>
<text x="443.3" y="637.8" font-size="11.8" text-anchor="middle" fill="#ec5564">E</text>
<circle cx="948.1" cy="633.5" r="12.6" fill="#fff" stroke="#2196f3" stroke-width="1.3"/>
<text x="948.1" y="637.8" font-size="11.8" text-anchor="middle" fill="#2196f3">D</text>
<circle cx="1452.7" cy="633.5" r="12.6" fill="#fff" stroke="#ec5564" stroke-width="1.3"/>
<text x="1452.7" y="637.8" font-size="11.8" text-anchor="middle" fill="#ec5564">E</text>
<rect class="ce" x="998" y="566" width="399" height="58" fill="#fff"/>
<text y="620" font-weight="bold" fill="#043a52" stroke="#043a52" stroke-width="6" stroke-linejoin="miter" font-size="71.5"><tspan x="997.03" textLength="46.68" lengthAdjust="spacingAndGlyphs">F</tspan><tspan x="1047.5" textLength="60.5" lengthAdjust="spacingAndGlyphs" fill="#0cb45b" stroke="#0cb45b">O</tspan><tspan x="1119.45" textLength="49.57" lengthAdjust="spacingAndGlyphs">R</tspan><tspan x="1177.95" textLength="46.23" lengthAdjust="spacingAndGlyphs">E</tspan><tspan x="1236.43" textLength="48.48" lengthAdjust="spacingAndGlyphs">X</tspan></text>
<text x="1292.72" y="606" font-size="38" font-weight="bold" fill="#043a52" stroke="#043a52" stroke-width="2.5" stroke-linejoin="round" textLength="103.65" lengthAdjust="spacingAndGlyphs">.com</text>
<ellipse cx="1077.7" cy="595.3" rx="29.1" ry="29.6" fill="#0cb45b"/>
<ellipse cx="1078.1" cy="595.1" rx="12.6" ry="21.7" fill="#fff"/>
<path d="M1082.5 587.7H1115.9L1113.9 592.8H1080.5ZM1080.9 598.3H1114.3L1112.7 603.2H1079Z" fill="#0cb45b"/>
<g class="ce">
<rect x="1" y="649" width="1814" height="1" fill="#4f5260"/>
<rect x="1761" y="1" width="1" height="887" fill="#4f5260"/>
<rect x="1" y="859" width="1814" height="1" fill="#4f5260"/>
<rect x="1762" y="619" width="4" height="1" fill="#4f5260"/>
<rect x="1762" y="584" width="4" height="1" fill="#4f5260"/>
<rect x="1762" y="549" width="4" height="1" fill="#4f5260"/>
<rect x="1762" y="513" width="4" height="1" fill="#4f5260"/>
<rect x="1762" y="478" width="4" height="1" fill="#4f5260"/>
<rect x="1762" y="442" width="4" height="1" fill="#4f5260"/>
<rect x="1762" y="407" width="4" height="1" fill="#4f5260"/>
<rect x="1762" y="372" width="4" height="1" fill="#4f5260"/>
<rect x="1762" y="336" width="4" height="1" fill="#4f5260"/>
<rect x="1762" y="301" width="4" height="1" fill="#4f5260"/>
<rect x="1762" y="265" width="4" height="1" fill="#4f5260"/>
<rect x="1762" y="230" width="4" height="1" fill="#4f5260"/>
<rect x="1762" y="195" width="4" height="1" fill="#4f5260"/>
<rect x="1762" y="159" width="4" height="1" fill="#4f5260"/>
<rect x="1762" y="124" width="4" height="1" fill="#4f5260"/>
<rect x="1762" y="88" width="4" height="1" fill="#4f5260"/>
<rect x="1762" y="53" width="4" height="1" fill="#4f5260"/>
<rect x="1762" y="18" width="4" height="1" fill="#4f5260"/>
<rect x="1762" y="675" width="4" height="1" fill="#4f5260"/>
<rect x="1762" y="708" width="4" height="1" fill="#4f5260"/>
<rect x="1762" y="742" width="4" height="1" fill="#4f5260"/>
<rect x="1762" y="775" width="4" height="1" fill="#4f5260"/>
<rect x="1762" y="808" width="4" height="1" fill="#4f5260"/>
<rect x="1762" y="841" width="4" height="1" fill="#4f5260"/>
<rect x="19" y="860" width="1" height="3" fill="#4f5260"/>
<rect x="101" y="860" width="1" height="3" fill="#4f5260"/>
<rect x="198" y="860" width="1" height="3" fill="#4f5260"/>
<rect x="328" y="860" width="1" height="3" fill="#4f5260"/>
<rect x="410" y="860" width="1" height="3" fill="#4f5260"/>
<rect x="540" y="860" width="1" height="3" fill="#4f5260"/>
<rect x="654" y="860" width="1" height="3" fill="#4f5260"/>
<rect x="735" y="860" width="1" height="3" fill="#4f5260"/>
<rect x="817" y="860" width="1" height="3" fill="#4f5260"/>
<rect x="898" y="860" width="1" height="3" fill="#4f5260"/>
<rect x="980" y="860" width="1" height="3" fill="#4f5260"/>
<rect x="1061" y="860" width="1" height="3" fill="#4f5260"/>
<rect x="1142" y="860" width="1" height="3" fill="#4f5260"/>
<rect x="1224" y="860" width="1" height="3" fill="#4f5260"/>
<rect x="1370" y="860" width="1" height="3" fill="#4f5260"/>
<rect x="1452" y="860" width="1" height="3" fill="#4f5260"/>
<rect x="1582" y="860" width="1" height="3" fill="#4f5260"/>
<rect x="1663" y="860" width="1" height="3" fill="#4f5260"/>
</g>
<text class="ax" x="1770.3" y="624.3" textLength="35.2" lengthAdjust="spacingAndGlyphs">305.00</text>
<text class="ax" x="1770.3" y="588.9" textLength="35.2" lengthAdjust="spacingAndGlyphs">310.00</text>
<text class="ax" x="1770.3" y="553.5" textLength="35.2" lengthAdjust="spacingAndGlyphs">315.00</text>
<text class="ax" x="1770.3" y="518.1" textLength="35.2" lengthAdjust="spacingAndGlyphs">320.00</text>
<text class="ax" x="1770.3" y="482.7" textLength="35.2" lengthAdjust="spacingAndGlyphs">325.00</text>
<text class="ax" x="1770.3" y="447.3" textLength="35.2" lengthAdjust="spacingAndGlyphs">330.00</text>
<text class="ax" x="1770.3" y="411.9" textLength="35.2" lengthAdjust="spacingAndGlyphs">335.00</text>
<text class="ax" x="1770.3" y="376.5" textLength="35.2" lengthAdjust="spacingAndGlyphs">340.00</text>
<text class="ax" x="1770.3" y="341.1" textLength="35.2" lengthAdjust="spacingAndGlyphs">345.00</text>
<text class="ax" x="1770.3" y="305.7" textLength="35.2" lengthAdjust="spacingAndGlyphs">350.00</text>
<text class="ax" x="1770.3" y="270.3" textLength="35.2" lengthAdjust="spacingAndGlyphs">355.00</text>
<text class="ax" x="1770.3" y="234.9" textLength="35.2" lengthAdjust="spacingAndGlyphs">360.00</text>
<text class="ax" x="1770.3" y="199.5" textLength="35.2" lengthAdjust="spacingAndGlyphs">365.00</text>
<text class="ax" x="1770.3" y="164.1" textLength="35.2" lengthAdjust="spacingAndGlyphs">370.00</text>
<text class="ax" x="1770.3" y="128.7" textLength="35.2" lengthAdjust="spacingAndGlyphs">375.00</text>
<text class="ax" x="1770.3" y="93.3" textLength="35.2" lengthAdjust="spacingAndGlyphs">380.00</text>
<text class="ax" x="1770.3" y="57.9" textLength="35.2" lengthAdjust="spacingAndGlyphs">385.00</text>
<text class="ax" x="1770.3" y="22.5" textLength="35.2" lengthAdjust="spacingAndGlyphs">390.00</text>
<text class="ax" x="1770.3" y="680.0" textLength="29" lengthAdjust="spacingAndGlyphs">80.00</text>
<text class="ax" x="1770.3" y="713.3" textLength="29" lengthAdjust="spacingAndGlyphs">70.00</text>
<text class="ax" x="1770.3" y="746.6" textLength="29" lengthAdjust="spacingAndGlyphs">60.00</text>
<text class="ax" x="1770.3" y="779.9" textLength="29" lengthAdjust="spacingAndGlyphs">50.00</text>
<text class="ax" x="1770.3" y="813.2" textLength="29" lengthAdjust="spacingAndGlyphs">40.00</text>
<text class="ax" x="1770.3" y="846.5" textLength="29" lengthAdjust="spacingAndGlyphs">30.00</text>
<text class="ax" x="13.6" y="879.2" textLength="11.8" lengthAdjust="spacingAndGlyphs">17</text>
<text class="ax" x="95.6" y="879.2" textLength="11.8" lengthAdjust="spacingAndGlyphs">24</text>
<text class="ax" x="188.8" y="879.2" textLength="19.3" lengthAdjust="spacingAndGlyphs">Sep</text>
<text class="ax" x="322.6" y="879.2" textLength="11.8" lengthAdjust="spacingAndGlyphs">14</text>
<text class="ax" x="404.6" y="879.2" textLength="11.8" lengthAdjust="spacingAndGlyphs">21</text>
<text class="ax" x="531.2" y="879.2" textLength="18.6" lengthAdjust="spacingAndGlyphs">Oct</text>
<text class="ax" x="648.6" y="879.2" textLength="11.8" lengthAdjust="spacingAndGlyphs">12</text>
<text class="ax" x="729.6" y="879.2" textLength="11.8" lengthAdjust="spacingAndGlyphs">19</text>
<text class="ax" x="811.6" y="879.2" textLength="11.8" lengthAdjust="spacingAndGlyphs">26</text>
<text class="ax" x="888.5" y="879.2" textLength="19.9" lengthAdjust="spacingAndGlyphs">Nov</text>
<text class="ax" x="977.6" y="879.2" textLength="5.8" lengthAdjust="spacingAndGlyphs">9</text>
<text class="ax" x="1055.6" y="879.2" textLength="11.8" lengthAdjust="spacingAndGlyphs">16</text>
<text class="ax" x="1136.6" y="879.2" textLength="11.8" lengthAdjust="spacingAndGlyphs">23</text>
<text class="ax" x="1215.0" y="879.2" textLength="18.9" lengthAdjust="spacingAndGlyphs">Dec</text>
<text class="ax" x="1364.6" y="879.2" textLength="11.8" lengthAdjust="spacingAndGlyphs">14</text>
<text class="ax" x="1446.6" y="879.2" textLength="11.8" lengthAdjust="spacingAndGlyphs">21</text>
<text class="ax" x="1569.6" y="879.2" textLength="25.8" lengthAdjust="spacingAndGlyphs" font-weight="bold">2021</text>
<text class="ax" x="1658.2" y="879.2" textLength="10.6" lengthAdjust="spacingAndGlyphs">11</text>
<g class="ce">
<rect x="1761" y="44" width="53" height="19" fill="#787b8a"/>
<rect x="1762" y="52" width="4" height="1" fill="#fff"/>
<rect x="1761" y="157" width="53" height="19" fill="#787b8a"/>
<rect x="1762" y="165" width="4" height="1" fill="#fff"/>
<rect x="1761" y="532" width="53" height="19" fill="#787b8a"/>
<rect x="1762" y="540" width="4" height="1" fill="#fff"/>
<rect x="1761" y="398" width="53" height="19" fill="#787b8a"/>
<rect x="1762" y="406" width="4" height="1" fill="#fff"/>
<rect x="1761" y="379" width="53" height="19" fill="#000"/>
<rect x="1762" y="388" width="4" height="1" fill="#fff"/>
</g>
<text x="1770.3" y="57.9" font-size="12.6" font-weight="bold" fill="#fff" textLength="35.6" lengthAdjust="spacingAndGlyphs">385.00</text>
<text x="1770.3" y="170.9" font-size="12.6" font-weight="bold" fill="#fff" textLength="35.6" lengthAdjust="spacingAndGlyphs">369.00</text>
<text x="1770.3" y="545.9" font-size="12.6" font-weight="bold" fill="#fff" textLength="35.6" lengthAdjust="spacingAndGlyphs">316.00</text>
<text x="1770.3" y="412.4" font-size="12.6" font-weight="bold" fill="#fff" textLength="35.6" lengthAdjust="spacingAndGlyphs">335.00</text>
<text x="1770.3" y="393.4" font-size="12.6" font-weight="bold" fill="#fff" textLength="35.6" lengthAdjust="spacingAndGlyphs">337.62</text>
<rect x="1773.5" y="7.5" width="29" height="19" rx="3.5" fill="#fff" stroke="#d5d8e0" stroke-width="1"/>
<text x="1788" y="21.3" font-size="12" fill="#555866" text-anchor="middle" textLength="20.6" lengthAdjust="spacingAndGlyphs">USD</text>
<g stroke="#2a2e39" fill="none" stroke-width="1.2"><circle cx="1788.5" cy="874.4" r="4.8"/>
<path d="M1793.8 874.4L1795.9 874.4"/>
<path d="M1792.2 878.1L1793.4 879.3"/>
<path d="M1788.5 879.7L1788.5 881.8"/>
<path d="M1784.8 878.1L1783.6 879.3"/>
<path d="M1783.2 874.4L1781.1 874.4"/>
<path d="M1784.8 870.7L1783.6 869.5"/>
<path d="M1788.5 869.1L1788.5 867.0"/>
<path d="M1792.2 870.7L1793.4 869.5"/>
</g>
<rect x="5" y="54" width="135" height="46" fill="#fff" opacity="0.55" class="ce"/>
<text x="10.2" y="22.8" font-size="14" fill="#4a4d5a" textLength="201.8" lengthAdjust="spacingAndGlyphs">CINTAS CORP <tspan fill="#9fa2ac">·</tspan> 1D <tspan fill="#9fa2ac">·</tspan> Cboe BZX</text>
<path d="M236 8H247V26H236A9 9 0 0 1 236 8Z" fill="#d8eeeb"/>
<path d="M247 8H258A9 9 0 0 1 258 26H247Z" fill="#fbd0df"/>
<circle cx="237.8" cy="17" r="4" fill="#089981"/>
<text x="256.3" y="22" font-size="15" font-weight="bold" fill="#e0245e" text-anchor="middle">≈</text>
<text x="283.4" y="22.8" font-size="12" fill="#6a6d78" textLength="8.1" lengthAdjust="spacingAndGlyphs">O</text>
<text x="291.8" y="22.8" font-size="12" fill="#3a3d49" textLength="39.9" lengthAdjust="spacingAndGlyphs">338.00</text>
<text x="338.3" y="22.8" font-size="12" fill="#6a6d78" textLength="8.0" lengthAdjust="spacingAndGlyphs">H</text>
<text x="346.8" y="22.8" font-size="12" fill="#3a3d49" textLength="39.6" lengthAdjust="spacingAndGlyphs">342.00</text>
<text x="392.8" y="22.8" font-size="12" fill="#6a6d78" textLength="5.8" lengthAdjust="spacingAndGlyphs">L</text>
<text x="398.9" y="22.8" font-size="12" fill="#3a3d49" textLength="39.2" lengthAdjust="spacingAndGlyphs">336.75</text>
<text x="444.5" y="22.8" font-size="12" fill="#6a6d78" textLength="7.0" lengthAdjust="spacingAndGlyphs">C</text>
<text x="452" y="22.8" font-size="12" fill="#3a3d49" textLength="39.5" lengthAdjust="spacingAndGlyphs">337.62</text>
<text x="499" y="22.8" font-size="12" fill="#3a3d49" textLength="30.0" lengthAdjust="spacingAndGlyphs">−8.51</text>
<text x="535.5" y="22.8" font-size="12" fill="#3a3d49" textLength="47.9" lengthAdjust="spacingAndGlyphs">(−2.46%)</text>
<text class="lg" x="10.2" y="45.6" textLength="85.2" lengthAdjust="spacingAndGlyphs">MA 200 close 0</text>
<text x="103.6" y="45.6" font-size="12" fill="#c62828" textLength="38.4" lengthAdjust="spacingAndGlyphs">286.84</text>
<text class="lg" x="10.2" y="70" textLength="78.6" lengthAdjust="spacingAndGlyphs">MA 50 close 0</text>
<text x="97" y="70" font-size="12" fill="#ff9800" textLength="38.4" lengthAdjust="spacingAndGlyphs">348.56</text>
<text class="lg" x="10.2" y="94.2" textLength="78.6" lengthAdjust="spacingAndGlyphs">MA 20 close 0</text>
<text x="97" y="94.2" font-size="12" fill="#2196f3" textLength="38.4" lengthAdjust="spacingAndGlyphs">354.49</text>
<text class="lg" x="10.2" y="670.8" textLength="68.5" lengthAdjust="spacingAndGlyphs">RSI 14 close</text>
<text x="87" y="670.8" font-size="12" fill="#9c27b0" textLength="31.5" lengthAdjust="spacingAndGlyphs">38.98</text>
<rect x="10.5" y="104" width="28" height="19" rx="2.5" fill="#fff" fill-opacity="0.85" stroke="#d1d4dc" stroke-width="1"/>
<path d="M20.3 116.2L24.5 112L28.7 116.2" stroke="#2a2e39" stroke-width="1.35" fill="none"/>
<g class="ce" fill="#e0e3eb">
<rect x="0" y="0" width="1818" height="1"/>
<rect x="0" y="0" width="1" height="890"/>
<rect x="1815" y="0" width="3" height="890"/>
<rect x="0" y="887" width="1818" height="1"/>
</g>
</svg></body></html>
